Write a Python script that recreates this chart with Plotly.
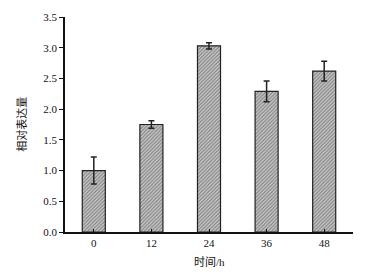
import plotly.graph_objects as go

categories = ["0", "12", "24", "36", "48"]
values = [1.00, 1.75, 3.03, 2.29, 2.62]
errors = [0.22, 0.06, 0.05, 0.17, 0.16]
y_ticks = [0.0, 0.5, 1.0, 1.5, 2.0, 2.5, 3.0, 3.5]

fig = go.Figure()
fig.add_trace(go.Bar(
    x=categories, y=values,
    marker=dict(color="white",
                line=dict(color="#222", width=1.2),
                pattern=dict(shape="/", fgcolor="#333", bgcolor="#d0d0d0", size=2.5, solidity=0.5)),
    error_y=dict(type="data", array=errors, visible=True, color="#222", thickness=1.5, width=3),
    width=0.4,
))

serif = "Liberation Serif, Noto Sans CJK SC, serif"
fig.update_layout(
    width=383, height=268,
    margin=dict(l=57, r=38, t=9, b=44),
    plot_bgcolor="white", paper_bgcolor="white",
    showlegend=False,
    font=dict(family=serif, size=11, color="#111"),
    annotations=[
        dict(text="时间/h", x=0.5, y=-0.1, xref="x domain", yref="y domain",
             yanchor="top", xanchor="center", showarrow=False,
             font=dict(family="Liberation Serif, Noto Sans CJK SC", size=11)),
        dict(text="相对表达量", x=-0.155, y=0.5, xref="x domain", yref="y domain",
             textangle=-90, xanchor="center", yanchor="middle", showarrow=False,
             font=dict(family="Noto Sans CJK SC", size=11)),
    ],
)
fig.update_xaxes(
    type="category", showline=True, linecolor="#111", linewidth=1.5,
    ticks="inside", ticklen=3, tickcolor="#111", automargin=False,
    showgrid=False,
)
fig.update_yaxes(
    range=[0, 3.5], tickvals=y_ticks, ticktext=[f"{v:.1f}" for v in y_ticks],
    showline=True, linecolor="#111", linewidth=1.5,
    ticks="outside", ticklen=4, tickcolor="#111", automargin=False,
    showgrid=False, zeroline=False,
)
fig.write_html("out.html")
